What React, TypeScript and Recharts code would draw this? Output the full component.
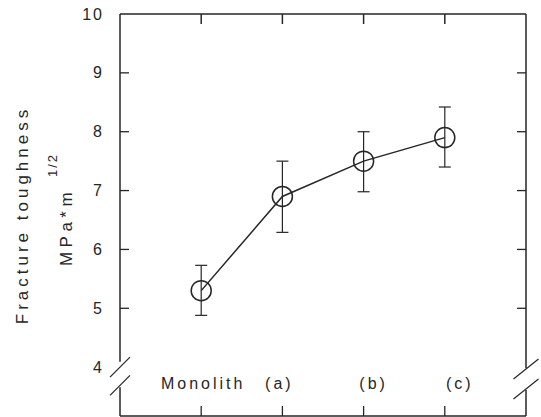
import React from 'react';
import { ComposedChart, Line, XAxis, YAxis, ErrorBar, ReferenceLine } from 'recharts';

// ---- data ----
const categories = ['Monolith', '(a)', '(b)', '(c)'];
const toughness = [5.3, 6.9, 7.5, 7.9];
const upperBound = [5.73, 7.5, 8.0, 8.42];
const lowerBound = [4.88, 6.29, 6.98, 7.4];
const yTicks = [4, 5, 6, 7, 8, 9, 10];
const rightTicks = [5, 6, 7, 8, 9];

// ---- layout / style constants ----
const Y_MIN = 3.17;
const Y_MAX = 10;
const X_MIN = 0;
const X_MAX = categories.length + 1;
const xTicks = categories.map((_, i) => i + 1);
const LABEL_DX = [2, -3, 10, 15];
const INK = '#262626';
const FONT = '"Liberation Sans", Arial, sans-serif';

const data = categories.map((name, i) => ({
  x: i + 1,
  name,
  y: toughness[i],
  err: [toughness[i] - lowerBound[i], upperBound[i] - toughness[i]],
}));

const slash = (cx: number, cy: number, dx: number, dy: number) => [
  { x: cx - dx, y: cy - dy },
  { x: cx + dx, y: cy + dy },
];

const LeftTick = (props: any) => {
  const { x, y, payload } = props;
  const v = payload.value;
  return (
    <g>
      {v !== 4 && v !== 10 && (
        <line x1={x} y1={y} x2={x + 9} y2={y} stroke={INK} strokeWidth={1.3} />
      )}
      <text
        x={x - 16}
        y={y}
        textAnchor="end"
        dominantBaseline="central"
        fontFamily={FONT}
        fontSize={16}
        letterSpacing={2}
        fill={INK}
      >
        {v}
      </text>
    </g>
  );
};

const RightTick = (props: any) => {
  const { x, y } = props;
  return <line x1={x} y1={y} x2={x - 9} y2={y} stroke={INK} strokeWidth={1.3} />;
};

const BottomTick = (props: any) => {
  const { x, y, index } = props;
  return (
    <g>
      <line x1={x} y1={y} x2={x} y2={y - 10} stroke={INK} strokeWidth={1.3} />
      <text
        x={x + LABEL_DX[index]}
        y={y - 33}
        textAnchor="middle"
        dominantBaseline="central"
        fontFamily={FONT}
        fontSize={16}
        letterSpacing={3}
        fill={INK}
      >
        {categories[index]}
      </text>
    </g>
  );
};

const YTitle = (props: any) => {
  const vb = props.viewBox || { x: 119, width: 1 };
  const ax = vb.x + (vb.width || 0);
  return (
    <g fontFamily={FONT} fill={INK}>
      <text
        transform={`translate(${ax - 98},215) rotate(-90)`}
        textAnchor="middle"
        dominantBaseline="central"
        fontSize={17}
        letterSpacing={4}
      >
        Fracture toughness
      </text>
      <text
        transform={`translate(${ax - 54},227) rotate(-90)`}
        textAnchor="middle"
        dominantBaseline="central"
        fontSize={17}
        letterSpacing={4.5}
      >
        MPa*m
      </text>
      <text
        transform={`translate(${ax - 68},165) rotate(-90)`}
        textAnchor="middle"
        dominantBaseline="central"
        fontSize={13}
        letterSpacing={2}
      >
        1/2
      </text>
    </g>
  );
};

const lineProps = { stroke: INK, strokeWidth: 1.5, ifOverflow: 'visible' as const };
const TOP_TICK_LEN = 0.17;

export default function App() {
  return (
    <div style={{ position: 'absolute', left: 0, top: 0, width: 541, height: 417, background: '#fff' }}>
      <ComposedChart
        width={541}
        height={417}
        data={data}
        margin={{ top: 14, right: 14, bottom: 0, left: 119 }}
      >
        <XAxis
          dataKey="x"
          type="number"
          domain={[X_MIN, X_MAX]}
          ticks={xTicks}
          interval={0}
          height={1}
          tickSize={0}
          tickMargin={0}
          tickLine={false}
          axisLine={{ stroke: INK, strokeWidth: 1.5 }}
          tick={<BottomTick />}
        />
        <YAxis
          type="number"
          domain={[Y_MIN, Y_MAX]}
          ticks={yTicks}
          interval={0}
          width={1}
          tickSize={0}
          tickMargin={0}
          tickLine={false}
          axisLine={false}
          tick={<LeftTick />}
          allowDataOverflow
          label={{ content: <YTitle /> }}
        />
        <YAxis
          yAxisId="right"
          orientation="right"
          type="number"
          domain={[Y_MIN, Y_MAX]}
          ticks={rightTicks}
          interval={0}
          width={1}
          tickSize={0}
          tickMargin={0}
          tickLine={false}
          axisLine={false}
          tick={<RightTick />}
          allowDataOverflow
        />
        {/* top frame and its inward ticks */}
        <ReferenceLine y={Y_MAX} {...lineProps} />
        <ReferenceLine segment={[{ x: xTicks[0], y: Y_MAX }, { x: xTicks[0], y: Y_MAX - TOP_TICK_LEN }]} stroke={INK} strokeWidth={1.5} ifOverflow="visible" />
        <ReferenceLine segment={[{ x: xTicks[1], y: Y_MAX }, { x: xTicks[1], y: Y_MAX - TOP_TICK_LEN }]} stroke={INK} strokeWidth={1.5} ifOverflow="visible" />
        <ReferenceLine segment={[{ x: xTicks[2], y: Y_MAX }, { x: xTicks[2], y: Y_MAX - TOP_TICK_LEN }]} stroke={INK} strokeWidth={1.5} ifOverflow="visible" />
        <ReferenceLine segment={[{ x: xTicks[3], y: Y_MAX }, { x: xTicks[3], y: Y_MAX - TOP_TICK_LEN }]} stroke={INK} strokeWidth={1.5} ifOverflow="visible" />
        {/* left frame with break */}
        <ReferenceLine segment={[{ x: X_MIN, y: Y_MAX }, { x: X_MIN, y: 4.09 }]} {...lineProps} />
        <ReferenceLine segment={[{ x: X_MIN, y: 3.66 }, { x: X_MIN, y: Y_MIN }]} {...lineProps} />
        <ReferenceLine segment={slash(X_MIN, 4.0, 0.123, 0.17)} stroke={INK} strokeWidth={1.2} ifOverflow="visible" />
        <ReferenceLine segment={slash(X_MIN, 3.69, 0.123, 0.17)} stroke={INK} strokeWidth={1.2} ifOverflow="visible" />
        {/* right frame with break */}
        <ReferenceLine segment={[{ x: X_MAX, y: Y_MAX }, { x: X_MAX, y: 3.98 }]} {...lineProps} />
        <ReferenceLine segment={[{ x: X_MAX, y: 3.61 }, { x: X_MAX, y: Y_MIN }]} {...lineProps} />
        <ReferenceLine segment={slash(X_MAX, 3.97, 0.154, 0.17)} stroke={INK} strokeWidth={1.2} ifOverflow="visible" />
        <ReferenceLine segment={slash(X_MAX, 3.63, 0.154, 0.17)} stroke={INK} strokeWidth={1.2} ifOverflow="visible" />
        <Line
          dataKey="y"
          type="linear"
          stroke={INK}
          strokeWidth={1.5}
          dot={{ r: 10, fill: 'none', stroke: INK, strokeWidth: 1.5 }}
          activeDot={false}
          isAnimationActive={false}
        >
          <ErrorBar dataKey="err" width={6} stroke={INK} strokeWidth={1.2} direction="y" isAnimationActive={false} />
        </Line>
      </ComposedChart>
    </div>
  );
}
